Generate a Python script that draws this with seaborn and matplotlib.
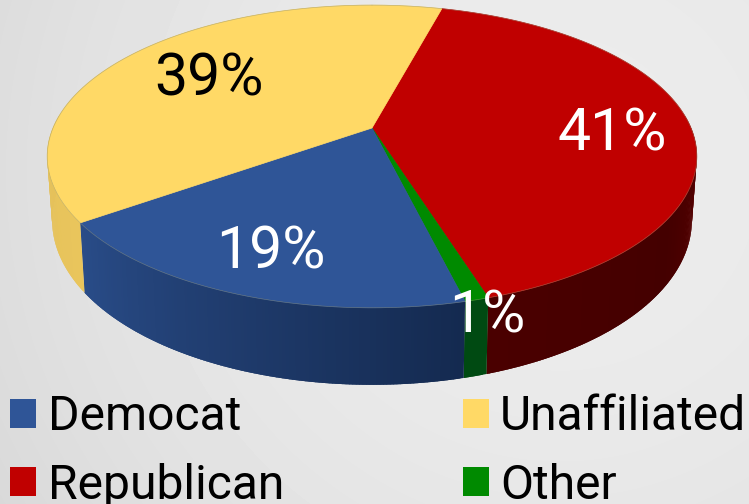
"""Party affiliation shown as a tilted pie with a rim."""
import numpy as np
import matplotlib.pyplot as plt
from matplotlib.patches import Patch, Polygon
import seaborn as sns

# clockwise from the yellow/red border
parties = ['Republican', 'Other', 'Democat', 'Unaffiliated']
shares = [41, 1, 19, 39]
legend_order = ['Democat', 'Republican', 'Unaffiliated', 'Other']

top_colors = {'Republican': '#c00000', 'Other': '#008a00',
              'Democat': '#2f5597', 'Unaffiliated': '#ffd966'}
side_colors = {'Republican': ['#620000', '#440000', '#4a0000'],
               'Other': ['#004a12', '#004a12'],
               'Democat': ['#142a50', '#1f3b6c', '#294c88'],
               'Unaffiliated': ['#e9c55c', '#e4c05a']}
text_colors = {'Republican': 'white', 'Other': 'white',
               'Democat': 'white', 'Unaffiliated': 'black'}
label_pos = {'Republican': (612, 134), 'Other': (487, 316),
             'Democat': (271, 252), 'Unaffiliated': (209, 79)}

START = 15.0
CX, CY = 372, 128
A, B, P = 319, 146, 0.188


def project(theta, drop=False):
    t = np.radians(theta)
    u, v = np.sin(t), -np.cos(t)
    x = CX + A * u / (1 - P * v)
    y = CY + B * v / (1 - P * v)
    if drop:
        x = CX + (x - CX) * 0.985
        y = y + 60 + 17 * v
    return np.column_stack([x, y])


sns.set_theme(style='white')
plt.rcParams['font.family'] = ['Roboto', 'DejaVu Sans']

fig = plt.figure(figsize=(7.49, 5.04), dpi=100)
ax = fig.add_axes([0, 0, 1, 1])

# light grey backdrop
yy, xx = np.mgrid[0:504, 0:749]
shade = 0.925 - 0.055 * ((xx - 560) ** 2 + (yy - 170) ** 2) / 560 ** 2
ax.imshow(shade, cmap='gray', vmin=0, vmax=1, extent=(0, 749, 504, 0), aspect='auto')

edges = START + np.cumsum([0] + shares) * 3.6
spans = list(zip(parties, edges[:-1], edges[1:]))

# rim first, the top face then covers whatever is behind it
for name, a, b in spans:
    a, b = max(a, 85), min(b, 275)
    if a >= b:
        continue
    n = max(int(b - a) * 2, 2)
    pal = sns.blend_palette(side_colors[name], n)
    steps = np.linspace(a, b, n + 1)
    for i in range(n):
        # each strip runs under the next one so no seams show
        seg = np.linspace(steps[i], min(steps[i + 1] + 0.6, b), 3)
        pts = np.vstack([project(seg), project(seg[::-1], drop=True)])
        ax.add_patch(Polygon(pts, fc=pal[i], ec='none'))

for name, a, b in spans:
    rim = project(np.linspace(a, b, 200))
    pts = np.vstack([[CX, CY], rim])
    ax.add_patch(Polygon(pts, fc=top_colors[name], ec=top_colors[name], lw=0.5))

outline = project(np.linspace(0, 360, 400))
ax.plot(outline[:, 0], outline[:, 1], color='#8a8a6a', lw=0.5, alpha=0.5)

for name, share in zip(parties, shares):
    x, y = label_pos[name]
    ax.text(x, y, f'{share}%', color=text_colors[name], fontsize=42.5,
            ha='center', va='center')

handles = [Patch(fc=top_colors[p], ec='none', label=p) for p in legend_order]
ax.legend(handles=handles, ncols=2, frameon=False, fontsize=34.6, loc='lower left',
          bbox_to_anchor=(0.0134, -0.009), borderaxespad=0, borderpad=0,
          handlelength=0.54, handleheight=0.54, handletextpad=0.24,
          columnspacing=3.72, labelspacing=0.46, labelcolor='black')

ax.set_xlim(0, 749)
ax.set_ylim(504, 0)
ax.axis('off')
fig.savefig('out.png', dpi=100)
